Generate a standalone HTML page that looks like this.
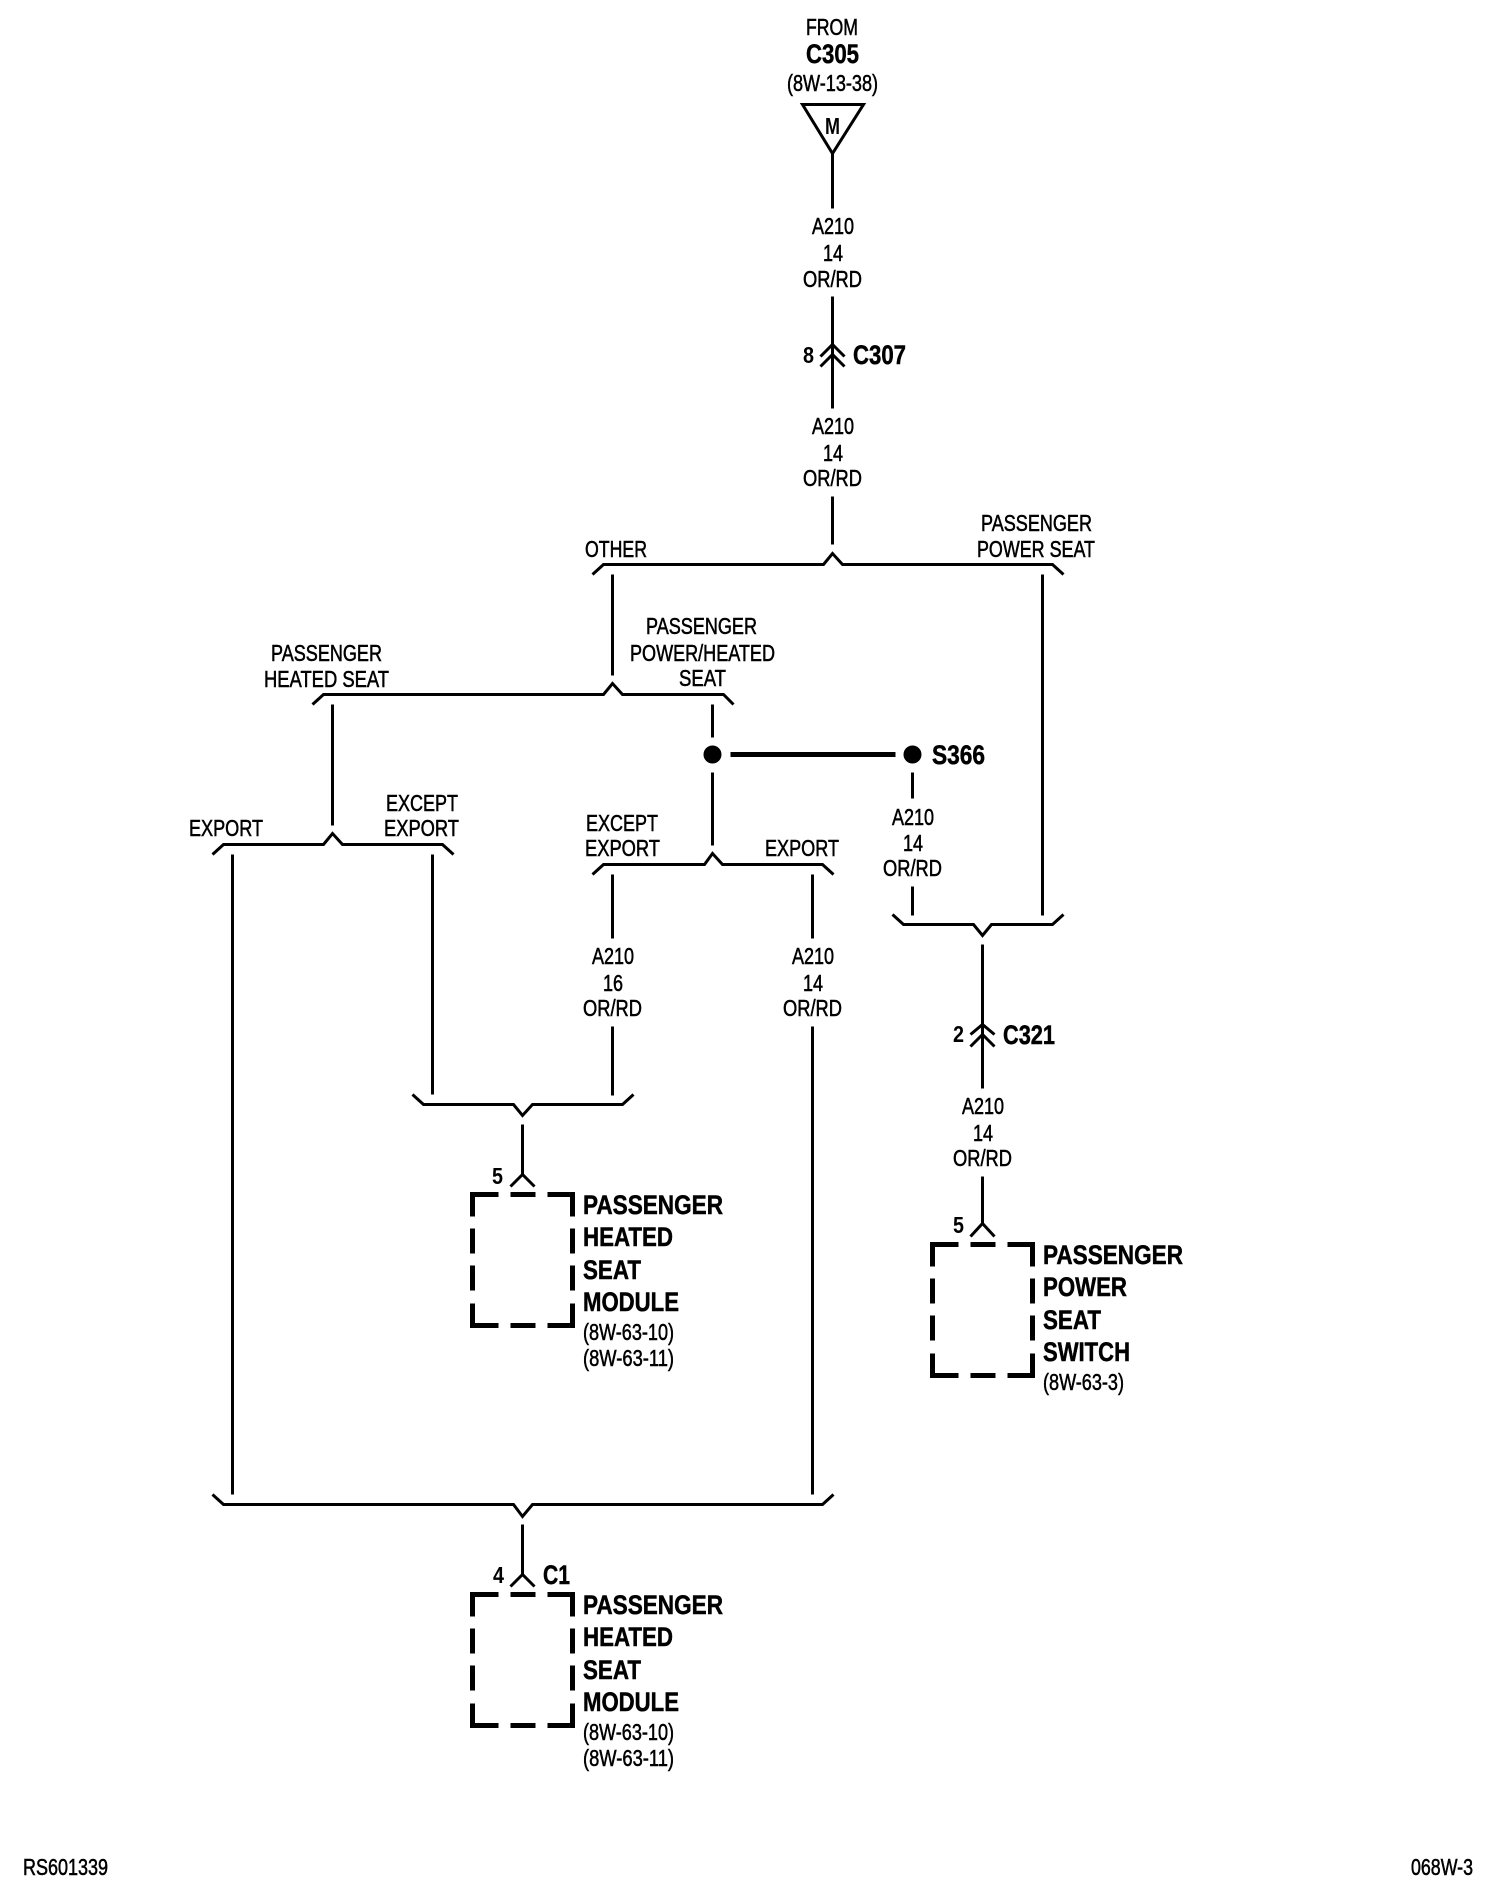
<!DOCTYPE html>
<html lang="en">
<head>
<meta charset="utf-8">
<title>Wiring diagram</title>
<style>
html,body{margin:0;padding:0;background:#fff}
svg{display:block}
text{font-family:"Liberation Sans",Arial,sans-serif;fill:#000}
.r{font-size:23px;stroke:#000;stroke-width:.55px}
.b{font-size:27px;font-weight:bold;stroke:#000;stroke-width:.5px}
.n{font-size:23px;font-weight:bold}
.w{fill:none;stroke:#000;stroke-width:3;stroke-linejoin:miter;stroke-linecap:butt}
.d{fill:none;stroke:#000;stroke-width:5;stroke-linejoin:miter;stroke-linecap:butt}
</style>
</head>
<body>
<svg xmlns="http://www.w3.org/2000/svg" width="1504" height="1888" viewBox="0 0 1504 1888">
<rect width="1504" height="1888" fill="#fff"/>

<g transform="translate(.5,.5)">
<!-- top source -->
<path class="w" d="M802 104H863L832 153Z"/>
<path class="w" d="M832 153V208M832 296V366M832 354V408M832 496V544"/>
<path class="w" d="M820 356L832 344L844 356M820 366L832 354L844 366"/>

<!-- bracket 1 -->
<path class="w" d="M592 574L603 564H823L832 553L842 564H1052L1063 574"/>
<path class="w" d="M612 574V675M1042 574V915"/>

<!-- bracket 2 -->
<path class="w" d="M312 704L323 694H603L612 683L622 694H723L733 704"/>
<path class="w" d="M332 704V825M712 704V737M712 772V845"/>

<!-- splice -->
<circle cx="712" cy="754" r="9" fill="#000"/>
<circle cx="912" cy="754" r="9" fill="#000"/>
<path d="M730 754H895" stroke="#000" stroke-width="5" fill="none"/>
<path class="w" d="M912 772V798M912 886V915"/>

<!-- bracket 3 left -->
<path class="w" d="M212 854L223 844H323L332 833L342 844H442L453 854"/>
<path class="w" d="M232 854V1494M432 854V1094"/>

<!-- bracket 3 right -->
<path class="w" d="M592 874L603 864H704L712 853L722 864H822L833 874"/>
<path class="w" d="M612 874V938M612 1026V1095M812 874V938M812 1026V1494"/>

<!-- join brackets -->
<path class="w" d="M412 1094L423 1104H513L522 1115L532 1104H622L633 1094"/>
<path class="w" d="M522 1124V1174M510 1186L522 1174L534 1186"/>
<path class="w" d="M892 914L903 924H973L982 935L991 924H1052L1063 914"/>
<path class="w" d="M982 944V1088M970 1034L982 1024L994 1034M970 1046L982 1034L994 1046"/>
<path class="w" d="M982 1176V1223M970 1236L982 1223L994 1236"/>
<path class="w" d="M212 1494L223 1504H513L522 1516L532 1504H822L833 1494"/>
<path class="w" d="M522 1524V1574M510 1586L522 1574L534 1586"/>

<!-- dashed boxes -->
<path class="d" d="M472 1216V1194H498M510 1194H535M547 1194H572V1216M472 1228V1253M472 1265V1290M572 1228V1253M572 1265V1290M472 1303V1325H498M510 1325H535M547 1325H572V1303"/>
<path class="d" transform="translate(0,400)" d="M472 1216V1194H498M510 1194H535M547 1194H572V1216M472 1228V1253M472 1265V1290M572 1228V1253M572 1265V1290M472 1303V1325H498M510 1325H535M547 1325H572V1303"/>
<path class="d" transform="translate(460,50)" d="M472 1216V1194H498M510 1194H535M547 1194H572V1216M472 1228V1253M472 1265V1290M572 1228V1253M572 1265V1290M472 1303V1325H498M510 1325H535M547 1325H572V1303"/>
</g>

<!-- top labels -->
<text class="r" x="806" y="35" textLength="52" lengthAdjust="spacingAndGlyphs">FROM</text>
<text class="b" x="806" y="63" textLength="53" lengthAdjust="spacingAndGlyphs">C305</text>
<text class="r" x="787" y="91" textLength="91" lengthAdjust="spacingAndGlyphs">(8W-13-38)</text>
<text class="n" x="825" y="134" textLength="15" lengthAdjust="spacingAndGlyphs">M</text>

<text class="r" x="812" y="234" textLength="42" lengthAdjust="spacingAndGlyphs">A210</text>
<text class="r" x="823" y="261" textLength="20" lengthAdjust="spacingAndGlyphs">14</text>
<text class="r" x="803" y="287" textLength="59" lengthAdjust="spacingAndGlyphs">OR/RD</text>

<text class="n" x="803" y="363" textLength="11" lengthAdjust="spacingAndGlyphs">8</text>
<text class="b" x="853" y="364" textLength="53" lengthAdjust="spacingAndGlyphs">C307</text>

<text class="r" x="812" y="434" textLength="42" lengthAdjust="spacingAndGlyphs">A210</text>
<text class="r" x="823" y="461" textLength="20" lengthAdjust="spacingAndGlyphs">14</text>
<text class="r" x="803" y="486" textLength="59" lengthAdjust="spacingAndGlyphs">OR/RD</text>

<!-- branch labels -->
<text class="r" x="585" y="557" textLength="62" lengthAdjust="spacingAndGlyphs">OTHER</text>
<text class="r" x="981" y="531" textLength="111" lengthAdjust="spacingAndGlyphs">PASSENGER</text>
<text class="r" x="977" y="557" textLength="118" lengthAdjust="spacingAndGlyphs">POWER SEAT</text>
<text class="r" x="646" y="634" textLength="111" lengthAdjust="spacingAndGlyphs">PASSENGER</text>
<text class="r" x="630" y="661" textLength="145" lengthAdjust="spacingAndGlyphs">POWER/HEATED</text>
<text class="r" x="679" y="686" textLength="47" lengthAdjust="spacingAndGlyphs">SEAT</text>
<text class="r" x="271" y="661" textLength="111" lengthAdjust="spacingAndGlyphs">PASSENGER</text>
<text class="r" x="264" y="687" textLength="125" lengthAdjust="spacingAndGlyphs">HEATED SEAT</text>
<text class="r" x="189" y="836" textLength="74" lengthAdjust="spacingAndGlyphs">EXPORT</text>
<text class="r" x="386" y="811" textLength="72" lengthAdjust="spacingAndGlyphs">EXCEPT</text>
<text class="r" x="384" y="836" textLength="75" lengthAdjust="spacingAndGlyphs">EXPORT</text>
<text class="r" x="586" y="831" textLength="72" lengthAdjust="spacingAndGlyphs">EXCEPT</text>
<text class="r" x="585" y="856" textLength="75" lengthAdjust="spacingAndGlyphs">EXPORT</text>
<text class="r" x="765" y="856" textLength="74" lengthAdjust="spacingAndGlyphs">EXPORT</text>

<!-- S366 -->
<text class="b" x="932" y="764" textLength="53" lengthAdjust="spacingAndGlyphs">S366</text>
<text class="r" x="892" y="825" textLength="42" lengthAdjust="spacingAndGlyphs">A210</text>
<text class="r" x="903" y="851" textLength="20" lengthAdjust="spacingAndGlyphs">14</text>
<text class="r" x="883" y="876" textLength="59" lengthAdjust="spacingAndGlyphs">OR/RD</text>

<!-- mid wires -->
<text class="r" x="592" y="964" textLength="42" lengthAdjust="spacingAndGlyphs">A210</text>
<text class="r" x="603" y="991" textLength="20" lengthAdjust="spacingAndGlyphs">16</text>
<text class="r" x="583" y="1016" textLength="59" lengthAdjust="spacingAndGlyphs">OR/RD</text>
<text class="r" x="792" y="964" textLength="42" lengthAdjust="spacingAndGlyphs">A210</text>
<text class="r" x="803" y="991" textLength="20" lengthAdjust="spacingAndGlyphs">14</text>
<text class="r" x="783" y="1016" textLength="59" lengthAdjust="spacingAndGlyphs">OR/RD</text>

<!-- C321 -->
<text class="n" x="953" y="1042" textLength="11" lengthAdjust="spacingAndGlyphs">2</text>
<text class="b" x="1003" y="1044" textLength="52" lengthAdjust="spacingAndGlyphs">C321</text>
<text class="r" x="962" y="1114" textLength="42" lengthAdjust="spacingAndGlyphs">A210</text>
<text class="r" x="973" y="1141" textLength="20" lengthAdjust="spacingAndGlyphs">14</text>
<text class="r" x="953" y="1166" textLength="59" lengthAdjust="spacingAndGlyphs">OR/RD</text>
<text class="n" x="953" y="1233" textLength="11" lengthAdjust="spacingAndGlyphs">5</text>

<!-- module 1 -->
<text class="n" x="492" y="1184" textLength="11" lengthAdjust="spacingAndGlyphs">5</text>
<text class="b" x="583" y="1214" textLength="140" lengthAdjust="spacingAndGlyphs">PASSENGER</text>
<text class="b" x="583" y="1246" textLength="90" lengthAdjust="spacingAndGlyphs">HEATED</text>
<text class="b" x="583" y="1279" textLength="58" lengthAdjust="spacingAndGlyphs">SEAT</text>
<text class="b" x="583" y="1311" textLength="96" lengthAdjust="spacingAndGlyphs">MODULE</text>
<text class="r" x="583" y="1340" textLength="91" lengthAdjust="spacingAndGlyphs">(8W-63-10)</text>
<text class="r" x="583" y="1366" textLength="91" lengthAdjust="spacingAndGlyphs">(8W-63-11)</text>

<!-- module 2 -->
<text class="n" x="493" y="1583" textLength="11" lengthAdjust="spacingAndGlyphs">4</text>
<text class="b" x="543" y="1584" textLength="27" lengthAdjust="spacingAndGlyphs">C1</text>
<text class="b" x="583" y="1614" textLength="140" lengthAdjust="spacingAndGlyphs">PASSENGER</text>
<text class="b" x="583" y="1646" textLength="90" lengthAdjust="spacingAndGlyphs">HEATED</text>
<text class="b" x="583" y="1679" textLength="58" lengthAdjust="spacingAndGlyphs">SEAT</text>
<text class="b" x="583" y="1711" textLength="96" lengthAdjust="spacingAndGlyphs">MODULE</text>
<text class="r" x="583" y="1740" textLength="91" lengthAdjust="spacingAndGlyphs">(8W-63-10)</text>
<text class="r" x="583" y="1766" textLength="91" lengthAdjust="spacingAndGlyphs">(8W-63-11)</text>

<!-- switch -->
<text class="b" x="1043" y="1264" textLength="140" lengthAdjust="spacingAndGlyphs">PASSENGER</text>
<text class="b" x="1043" y="1296" textLength="84" lengthAdjust="spacingAndGlyphs">POWER</text>
<text class="b" x="1043" y="1329" textLength="58" lengthAdjust="spacingAndGlyphs">SEAT</text>
<text class="b" x="1043" y="1361" textLength="87" lengthAdjust="spacingAndGlyphs">SWITCH</text>
<text class="r" x="1043" y="1390" textLength="81" lengthAdjust="spacingAndGlyphs">(8W-63-3)</text>

<!-- footer -->
<text class="r" x="23" y="1875" textLength="85" lengthAdjust="spacingAndGlyphs">RS601339</text>
<text class="r" x="1411" y="1875" textLength="62" lengthAdjust="spacingAndGlyphs">068W-3</text>
</svg>
</body>
</html>
